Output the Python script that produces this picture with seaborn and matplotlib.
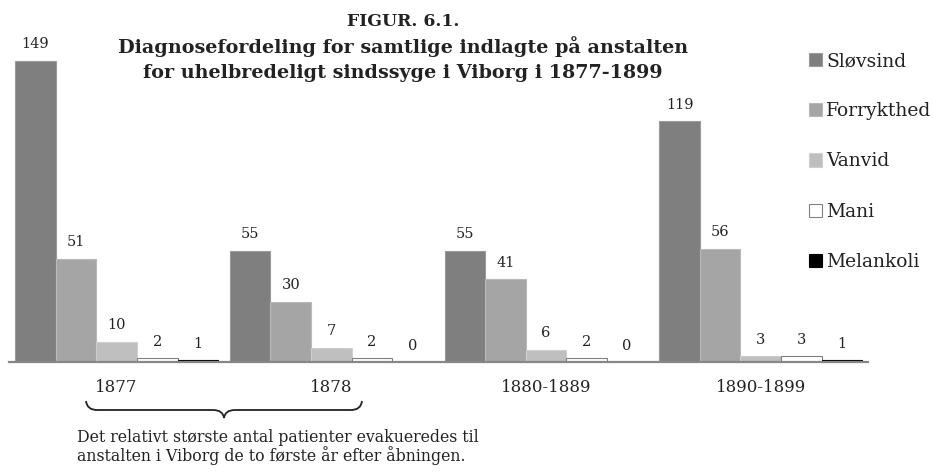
import numpy as np
import pandas as pd
import matplotlib
matplotlib.use("Agg")
import matplotlib.pyplot as plt
from matplotlib.path import Path
from matplotlib.patches import PathPatch
import seaborn as sns

# data
periods = ["1877", "1878", "1880-1889", "1890-1899"]
diagnoses = ["Sløvsind", "Forrykthed", "Vanvid", "Mani", "Melankoli"]
slovsind = [149, 55, 55, 119]
forrykthed = [51, 30, 41, 56]
vanvid = [10, 7, 6, 3]
mani = [2, 2, 2, 3]
melankoli = [1, 0, 0, 1]

colors = ["#7f7f7f", "#a5a5a5", "#bfbfbf", "#ffffff", "#000000"]
edges = ["#9a9a9a", "#b8b8b8", "#cfcfcf", "#808080", "#000000"]

df = pd.DataFrame({
    "periode": periods * 5,
    "diagnose": np.repeat(diagnoses, len(periods)),
    "antal": slovsind + forrykthed + vanvid + mani + melankoli,
})

sns.set_theme(style="white")
plt.rcParams["font.family"] = ["DejaVu Serif"]

fig = plt.figure(figsize=(9.33, 4.72), dpi=100)
ax = fig.add_axes([0.00997, 0.2324, 0.9204, 0.7676])
ax.patch.set_alpha(0)

sns.barplot(data=df, x="periode", y="antal", hue="diagnose",
            order=periods, hue_order=diagnoses, palette=colors,
            width=0.945, gap=0, errorbar=None, ax=ax, legend=False)

for cont, ec in zip(ax.containers, edges):
    for bar in cont:
        bar.set_edgecolor(ec)
        bar.set_linewidth(0.8)
    ax.bar_label(cont, fmt="%d", padding=7, fontsize=10.5, color="#222222")

ax.set_xlim(-0.5, 3.5)
ax.set_ylim(0, 179)
ax.set_xlabel("")
ax.set_ylabel("")
ax.set_yticks([])
for s in ["top", "left", "right"]:
    ax.spines[s].set_visible(False)
ax.spines["bottom"].set_color("#878787")
ax.spines["bottom"].set_linewidth(1.6)
ax.tick_params(axis="x", length=0, pad=12, labelsize=12, labelcolor="#222222")

handles = [cont.patches[0] for cont in ax.containers]
leg = ax.legend(handles, diagnoses, loc="upper left",
                bbox_to_anchor=(809 / 933, 1 - 52 / 472),
                bbox_transform=fig.transFigure, frameon=False,
                fontsize=13.5, handlelength=0.7, handleheight=0.7,
                handletextpad=0.2, labelspacing=1.72, borderpad=0,
                borderaxespad=0)
for t in leg.get_texts():
    t.set_color("#222222")

# overlay in pixel coordinates for title, brace and note
ov = fig.add_axes([0, 0, 1, 1], zorder=3)
ov.set_xlim(0, 933)
ov.set_ylim(472, 0)
ov.axis("off")

ov.text(403, 21, "FIGUR. 6.1.", ha="center", va="center",
        fontsize=12.4, fontweight="bold", color="#222222")
ov.text(403, 47, "Diagnosefordeling for samtlige indlagte på anstalten",
        ha="center", va="center", fontsize=13.8, fontweight="bold", color="#222222")
ov.text(403, 73, "for uhelbredeligt sindssyge i Viborg i 1877-1899",
        ha="center", va="center", fontsize=13.8, fontweight="bold", color="#222222")

# curly brace under the first two years
x0, x1, xm = 86, 362, 224
ytop, ymid, ytip = 401, 410, 418
verts = [(x0, ytop), (x0 + 1, ymid), (x0 + 11, ymid),
         (xm - 11, ymid), (xm - 1, ymid), (xm, ytip),
         (xm + 1, ymid), (xm + 11, ymid),
         (x1 - 11, ymid), (x1 - 1, ymid), (x1, ytop)]
codes = [Path.MOVETO, Path.CURVE3, Path.CURVE3,
         Path.LINETO, Path.CURVE3, Path.CURVE3,
         Path.CURVE3, Path.CURVE3,
         Path.LINETO, Path.CURVE3, Path.CURVE3]
ov.add_patch(PathPatch(Path(verts, codes), fill=False, lw=1.3, color="#222222"))

ov.text(77, 437, "Det relativt største antal patienter evakueredes til",
        ha="left", va="center", fontsize=11.3, color="#222222")
ov.text(77, 456, "anstalten i Viborg de to første år efter åbningen.",
        ha="left", va="center", fontsize=11.3, color="#222222")

fig.savefig("out.png", dpi=100)
